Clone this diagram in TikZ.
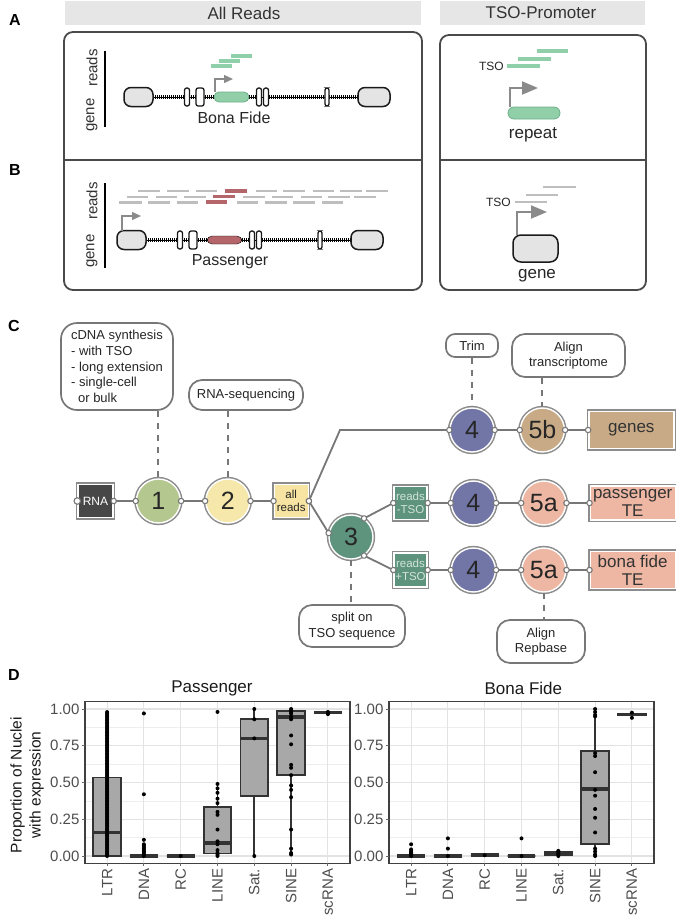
\documentclass[tikz,border=0pt]{standalone}
\usepackage{fontspec}
\setmainfont{Liberation Sans}
\usetikzlibrary{positioning,arrows.meta}

\definecolor{hdrgray}{HTML}{E6E6E6}
\definecolor{framegray}{HTML}{4A4A4A}
\definecolor{exongray}{HTML}{E4E4E4}
\definecolor{arrowgray}{HTML}{8A8A8A}
\definecolor{readgreen}{HTML}{8FD0AA}
\definecolor{elemgreen}{HTML}{91CFA9}
\definecolor{elemedge}{HTML}{6DAE88}
\definecolor{readred}{HTML}{B5666A}
\definecolor{readgray}{HTML}{BEBEBE}
\definecolor{linkgray}{HTML}{777777}
\definecolor{bubgray}{HTML}{777777}
\definecolor{ringgray}{HTML}{8C8C8C}
\definecolor{rnadark}{HTML}{474747}
\definecolor{stepone}{HTML}{B4C78E}
\definecolor{steptwo}{HTML}{F6E8AA}
\definecolor{allreads}{HTML}{F7E4A2}
\definecolor{stepthree}{HTML}{5E947E}
\definecolor{stepfour}{HTML}{7176A7}
\definecolor{genetan}{HTML}{C8AA86}
\definecolor{tesalmon}{HTML}{EDB7A3}
\definecolor{tsotext}{HTML}{D2E3D7}
\definecolor{boxgray}{HTML}{A8A8A8}
\definecolor{gridgray}{HTML}{E3E3E3}
\definecolor{axisgray}{HTML}{4D4D4D}

\tikzset{
  letter/.style={font=\fontsize{16}{16}\selectfont\bfseries},
  hdr/.style={font=\fontsize{17}{20}\selectfont, text=black!80},
  lab/.style={font=\fontsize{16}{19}\selectfont, text=black!85},
  side/.style={font=\fontsize{15}{18}\selectfont, text=black!80, rotate=90},
  tsol/.style={font=\fontsize{12}{14}\selectfont, text=black!85, anchor=east, inner sep=1pt},
  frame/.style={draw=framegray, line width=1.8pt},
  exon/.style={draw=black!90, fill=exongray, line width=1.5pt, rounded corners=7pt},
  minexon/.style={draw=black!90, fill=white, line width=1.3pt, rounded corners=2.2pt},
  elemg/.style={fill=elemgreen, draw=elemedge, line width=0.8pt, rounded corners=5pt},
  elemr/.style={fill=readred, rounded corners=5pt},
  promo/.style={draw=arrowgray, line width=1.4pt, -{Triangle[length=9pt,width=8pt]}},
  bigpromo/.style={draw=arrowgray, line width=1.9pt, -{Triangle[length=16pt,width=13pt]}},
  gread/.style={draw=readgreen, line width=3.8pt},
  rread/.style={draw=readred, line width=3.6pt},
  lread/.style={draw=readgray, line width=2.2pt},
  ring/.style={preaction={draw=ringgray, line width=4.4pt}, draw=white, line width=1.4pt},
  stepc/.style={circle, ring, fill=#1, minimum size=44pt, inner sep=0pt,
    font=\fontsize{25}{25}\selectfont, text=black!85},
  stepbox/.style={rectangle, ring, fill=#1, inner sep=0.5pt, align=center,
    font=\fontsize{11.5}{13.5}\selectfont},
  outbox/.style={stepbox=#1, minimum width=85pt, font=\fontsize{17}{18}\selectfont, text=black!80},
  link/.style={draw=linkgray, line width=1.8pt,
    {Circle[fill=white,length=6.5pt,line width=1.1pt]}-{Circle[fill=white,length=6.5pt,line width=1.1pt]},
    shorten <=-3.25pt, shorten >=-3.25pt},
  portc/.style={draw=linkgray, fill=white, line width=1.1pt},
  dashl/.style={draw=linkgray, line width=1.9pt, dash pattern=on 6pt off 6pt},
  bubble/.style={draw=bubgray, line width=1.7pt, fill=white, rounded corners=13pt,
    font=\fontsize{13}{15.7}\selectfont, text=black!85, align=center, inner sep=2pt},
  gridmaj/.style={draw=gridgray, line width=1.1pt},
  gridmin/.style={draw=gridgray!60, line width=0.6pt},
  bxp/.style={fill=boxgray, draw=black!80, line width=1.7pt},
  medl/.style={draw=black!80, line width=3.6pt},
  whisk/.style={draw=black!80, line width=1.7pt},
  dotc/.style={fill=black},
  tickl/.style={draw=black!60, line width=0.9pt},
  ticklab/.style={font=\fontsize{15}{18}\selectfont, text=axisgray, inner sep=1pt},
  ptitle/.style={font=\fontsize{17}{20}\selectfont, text=black!90},
  ytitle/.style={font=\fontsize{15.5}{19}\selectfont, text=black!90, rotate=90, align=center},
  pbord/.style={draw=black!75, line width=1.5pt},
  pics/genemodel/.style={code={
    \draw[line width=0.9pt] (29,0) -- (234,0);
    \draw[line width=4pt, dash pattern=on 0.9pt off 1.1pt] (29,0) -- (234,0);
    \filldraw[exon] (0,-9.5) rectangle (29,9.5);
    \filldraw[exon] (234,-9.5) rectangle (266,9.5);
    \foreach \x/\w in {63/5,76/8,135/5,142/5,203/4}
      \filldraw[minexon] (\x-\w/2,-9) rectangle (\x+\w/2,9);
  }}
}

% one box plot: position, lower whisker, q1, median, q3, upper whisker
\newcommand{\bxplot}[6]{%
  \draw[whisk] (#1,#2) -- (#1,#3) (#1,#5) -- (#1,#6);
  \filldraw[bxp] (#1-0.375,#3) rectangle (#1+0.375,#5);
  \draw[medl] (#1-0.375,#4) -- (#1+0.375,#4);
}

\begin{document}
\begin{tikzpicture}[x=1pt, y=-1pt]
\useasboundingbox (0,0) rectangle (675,916);

\node[letter] (la) at (15,20) {A};
\node[letter] (lb) at (15,170) {B};
\node[letter] (lc) at (14,326) {C};
\node[letter] (ld) at (14,675) {D};

% headers and frames
\fill[hdrgray] (65,1) rectangle (421,25);
\node[hdr] (hall) at (244,13) {All Reads};
\fill[hdrgray] (440,1) rectangle (645,25);
\node[hdr] (htso) at (541,13) {TSO-Promoter};
\draw[frame, rounded corners=9pt] (64,32) rectangle (422,290);
\draw[frame] (64,160) -- (422,160);
\draw[frame, rounded corners=9pt] (440,35) rectangle (646,290);
\draw[frame] (440,160) -- (646,160);

% A: bona fide
\pic at (124,97) {genemodel};
\filldraw[elemg] (214,92) rectangle (249,102);
\draw[promo] (215,92) -- (215,79) -- (233,79);
\foreach \xa/\xb/\y in {231/252/56,219/240/61,211/232/66}
  \draw[gread] (\xa,\y) -- (\xb,\y);
\draw[line width=1.4pt] (105,51) -- (105,127);
\node[side] (areads) at (92,68) {reads};
\node[side] (agene) at (92,115) {gene};
\node[lab] (bonafide) at (234,118) {Bona Fide};

% B: passenger
\pic at (117,240) {genemodel};
\filldraw[elemr] (207,236) rectangle (242,244);
\draw[promo] (122,231) -- (122,216) -- (141,216);
\foreach \xa/\xb in {138/160,167/189,196/217,256/277,283/305,313/334,340/362,366/388}
  \draw[lread] (\xa,191) -- (\xb,191);
\foreach \xa/\xb in {127/148,156/177,184/206,243/265,272/293,301/322,328/350,354/376}
  \draw[lread] (\xa,197) -- (\xb,197);
\foreach \xa/\xb in {119/142,148/170,177/198,237/258,265/287,293/315,322/343}
  \draw[lread] (\xa,202.5) -- (\xb,202.5);
\foreach \xa/\xb/\y in {225/247/191,213/235/196.5,206/227/202}
  \draw[rread] (\xa,\y) -- (\xb,\y);
\draw[line width=1.4pt] (105,183) -- (105,268);
\node[side] (breads) at (92,201) {reads};
\node[side] (bgene) at (92,251) {gene};
\node[lab] (passenger) at (230,262) {Passenger};

% TSO-promoter side
\filldraw[elemg, rounded corners=6pt] (508,107) rectangle (560,119);
\draw[bigpromo] (510,107) -- (510,88) -- (538,88);
\foreach \xa/\xb/\y in {537/568/51,518/551/59,507/540/66}
  \draw[gread] (\xa,\y) -- (\xb,\y);
\node[tsol] (tsoa) at (505,66) {TSO};
\node[lab, font=\fontsize{17}{20}\selectfont] (repeat) at (533,135) {repeat};
\filldraw[exon, rounded corners=8pt] (513,235) rectangle (558,262);
\draw[bigpromo] (517,235) -- (517,212) -- (547,212);
\foreach \xa/\xb/\y in {543/576/187,526/558/195,515/547/202}
  \draw[lread] (\xa,\y) -- (\xb,\y);
\node[tsol] (tsob) at (512,202) {TSO};
\node[lab, font=\fontsize{17}{20}\selectfont] (gene) at (537,276) {gene};

% C: pipeline
\node[stepbox=rnadark, minimum width=35pt, minimum height=33pt, text=white,
  font=\fontsize{12}{14}\selectfont] (rna) at (95.5,501) {RNA};
\node[stepc=stepone, right=22pt of rna] (s1) {1};
\node[stepc=steptwo, right=24pt of s1] (s2) {2};
\node[stepbox=allreads, minimum width=34pt, minimum height=33pt, text=black!85, right=23pt of s2] (all) {all\\reads};
\coordinate (bend) at (340,430);
\node[stepc=stepthree] (s3) at (351,537) {3};
\node[stepbox=stepthree, minimum width=33pt, minimum height=33pt, text=tsotext] (minus) at (410.5,503) {reads\\-TSO};
\node[stepbox=stepthree, minimum width=33pt, minimum height=34pt, text=tsotext] (plus) at (410.5,570) {reads\\+TSO};
\node[stepc=stepfour] (g4) at (472,430) {4};
\node[stepc=genetan, right=25pt of g4] (g5) {5b};
\node[outbox=genetan, minimum height=37pt, right=23pt of g5] (genes) {genes};
\node[stepc=stepfour, right=23pt of minus] (p4) {4};
\node[stepc=tesalmon, right=25pt of p4] (p5) {5a};
\node[outbox=tesalmon, minimum height=34pt, right=23pt of p5] (pte) {passenger\\TE};
\node[stepc=stepfour, right=23pt of plus] (b4) {4};
\node[stepc=tesalmon, right=25pt of b4] (b5) {5a};
\node[outbox=tesalmon, minimum height=37pt, right=23pt of b5] (bte) {bona fide\\TE};

\draw[portc] (rna.west) circle[radius=3.25pt];
\draw[link] (rna.east) -- (s1.west);
\draw[link] (s1.east) -- (s2.west);
\draw[link] (s2.east) -- (all.west);
\draw[link] (all.east) -- (bend) -- (g4.west);
\draw[link] (all.east) -- (s3.170);
\draw[link] (s3.55) -- (minus.west);
\draw[link] (s3.-55) -- (plus.west);
\draw[link] (g4.east) -- (g5.west);
\draw[link] (g5.east) -- (genes.west);
\draw[link] (minus.east) -- (p4.west);
\draw[link] (p4.east) -- (p5.west);
\draw[link] (p5.east) -- (pte.west);
\draw[link] (plus.east) -- (b4.west);
\draw[link] (b4.east) -- (b5.west);
\draw[link] (b5.east) -- (bte.west);

\node[bubble, align=left, minimum width=112pt, minimum height=87pt, rounded corners=16pt] (cdna) at (117,366.5)
  {cDNA synthesis\\- with TSO\\- long extension\\- single-cell\\\hspace*{7pt}or bulk};
\node[bubble, minimum width=114pt, minimum height=30pt] (rseq) at (246,395) {RNA-sequencing};
\node[bubble, minimum width=52pt, minimum height=23pt, rounded corners=9pt] (trim) at (472,345.5) {Trim};
\node[bubble, minimum width=113pt, minimum height=43pt] (atx) at (568.5,355.5) {Align\\transcriptome};
\node[bubble, minimum width=106pt, minimum height=42pt] (split) at (352,626) {split on\\TSO sequence};
\node[bubble, minimum width=88pt, minimum height=43pt] (arep) at (541,641.5) {Align\\Repbase};

\draw[dashl] (cdna.south -| s1) -- (s1.north);
\draw[dashl] (rseq.south -| s2) -- (s2.north);
\draw[dashl] (trim.south) -- (g4.north);
\draw[dashl] (atx.south -| g5) -- (g5.north);
\draw[dashl] (s3.south) -- (split.north -| s3);
\draw[dashl] (b5.south) -- (arep.north -| b5);

% D: box plots
\node[ytitle] (ytit) at (27,785) {Proportion of Nuclei\\with expression};

\begin{scope}[shift={(70.3,856)}, x=36.8pt, y=147pt]
  \foreach \v in {0.125,0.375,0.625,0.875} \draw[gridmin] (0.4,\v) -- (7.6,\v);
  \foreach \v in {0,0.25,0.5,0.75,1} \draw[gridmaj] (0.4,\v) -- (7.6,\v);
  \foreach \i in {1,...,7} \draw[gridmaj] (\i,-0.05) -- (\i,1.05);
  \bxplot{1}{0}{0}{0.16}{0.535}{0.98}
  \bxplot{2}{0}{0}{0}{0}{0}
  \bxplot{3}{0}{0}{0}{0}{0}
  \bxplot{4}{0}{0.018}{0.09}{0.335}{0.49}
  \bxplot{5}{0}{0.41}{0.80}{0.932}{1}
  \bxplot{6}{0.007}{0.551}{0.947}{0.988}{1}
  \bxplot{7}{0.975}{0.975}{0.975}{0.975}{0.975}
  \foreach \v in {0,0.01,...,0.98} \fill[dotc] (1,\v) circle[radius=2pt];
  \foreach \v in {0,0.01,0.02,0.03,0.04,0.05,0.06,0.07,0.08,0.11,0.42,0.97} \fill[dotc] (2,\v) circle[radius=2pt];
  \fill[dotc] (3,0) circle[radius=2pt];
  \foreach \v in {0,0.01,0.02,0.04,0.08,0.10,0.18,0.28,0.30,0.36,0.39,0.43,0.46,0.49,0.98} \fill[dotc] (4,\v) circle[radius=2pt];
  \foreach \v in {0,0.80,0.93,1} \fill[dotc] (5,\v) circle[radius=2pt];
  \foreach \v in {0.01,0.02,0.05,0.18,0.40,0.45,0.48,0.55,0.60,0.62,0.76,0.82,0.93,0.95,0.97,0.98,0.99,1} \fill[dotc] (6,\v) circle[radius=2pt];
  \foreach \v in {0.965,0.975,0.98} \fill[dotc] (7,\v) circle[radius=2pt];
  \draw[pbord] (0.4,-0.05) rectangle (7.6,1.05);
  \foreach \v/\t in {0/0.00,0.25/0.25,0.5/0.50,0.75/0.75,1/1.00} {
    \draw[tickl] (0.4,\v) -- ++(-3pt,0);
    \node[ticklab, anchor=east] at (0.28,\v) {\t};
  }
  \foreach \i/\t in {1/LTR,2/DNA,3/RC,4/LINE,5/Sat.,6/SINE,7/scRNA} {
    \draw[tickl] (\i,-0.05) -- ++(0,-3pt);
    \node[ticklab, rotate=90, anchor=east] at (\i,-0.08) {\t};
  }
  \node[ptitle] (tpas) at (3.85,1.143) {Passenger};
\end{scope}

\begin{scope}[shift={(374.3,856)}, x=36.8pt, y=147pt]
  \foreach \v in {0.125,0.375,0.625,0.875} \draw[gridmin] (0.4,\v) -- (7.6,\v);
  \foreach \v in {0,0.25,0.5,0.75,1} \draw[gridmaj] (0.4,\v) -- (7.6,\v);
  \foreach \i in {1,...,7} \draw[gridmaj] (\i,-0.05) -- (\i,1.05);
  \bxplot{1}{0}{0}{0}{0}{0}
  \bxplot{2}{0}{0}{0}{0}{0}
  \bxplot{3}{0.005}{0.005}{0.005}{0.005}{0.005}
  \bxplot{4}{0}{0}{0}{0}{0}
  \bxplot{5}{0}{0.008}{0.015}{0.028}{0.035}
  \bxplot{6}{0}{0.082}{0.456}{0.716}{1}
  \bxplot{7}{0.94}{0.96}{0.962}{0.966}{0.975}
  \foreach \v in {0,0.005,0.01,0.015,0.02,0.025,0.035,0.045,0.08} \fill[dotc] (1,\v) circle[radius=2pt];
  \foreach \v in {0,0.05,0.12} \fill[dotc] (2,\v) circle[radius=2pt];
  \fill[dotc] (3,0.005) circle[radius=2pt];
  \foreach \v in {0,0.12} \fill[dotc] (4,\v) circle[radius=2pt];
  \foreach \v in {0,0.01,0.02,0.03,0.035} \fill[dotc] (5,\v) circle[radius=2pt];
  \foreach \v in {0,0.01,0.03,0.05,0.16,0.26,0.32,0.41,0.45,0.57,0.68,0.70,0.95,0.96,0.98,1} \fill[dotc] (6,\v) circle[radius=2pt];
  \foreach \v in {0.94,0.975} \fill[dotc] (7,\v) circle[radius=2pt];
  \draw[pbord] (0.4,-0.05) rectangle (7.6,1.05);
  \foreach \v/\t in {0/0.00,0.25/0.25,0.5/0.50,0.75/0.75,1/1.00} {
    \draw[tickl] (0.4,\v) -- ++(-3pt,0);
    \node[ticklab, anchor=east] at (0.28,\v) {\t};
  }
  \foreach \i/\t in {1/LTR,2/DNA,3/RC,4/LINE,5/Sat.,6/SINE,7/scRNA} {
    \draw[tickl] (\i,-0.05) -- ++(0,-3pt);
    \node[ticklab, rotate=90, anchor=east] at (\i,-0.08) {\t};
  }
  \node[ptitle] (tbf) at (4.05,1.143) {Bona Fide};
\end{scope}
\end{tikzpicture}
\end{document}
